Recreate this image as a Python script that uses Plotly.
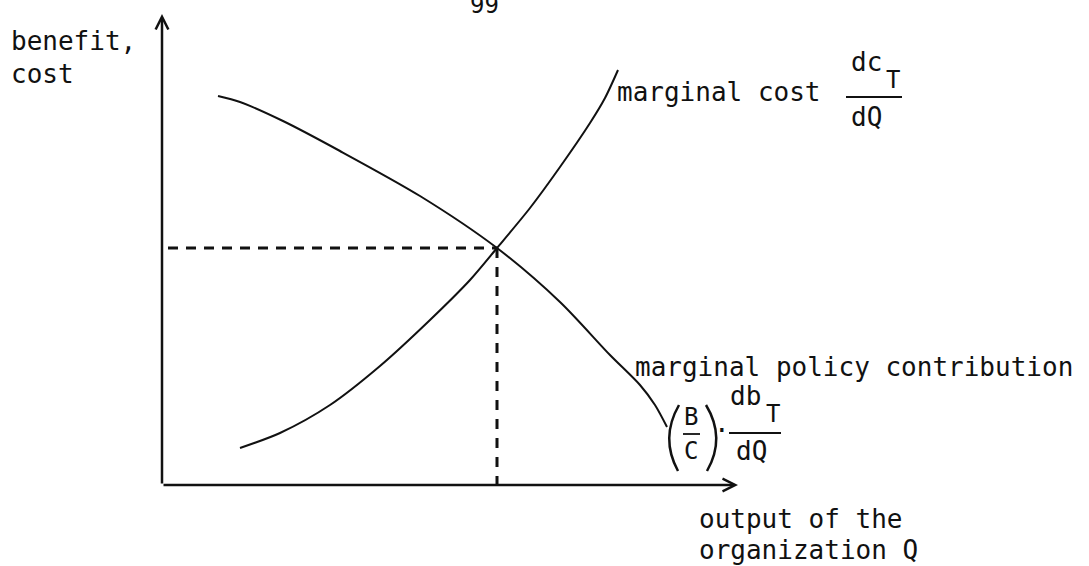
import plotly.graph_objects as go

# curves (Q = output, v = benefit/cost), arbitrary units
mc_q = [1.56, 2.36, 3.36, 4.36, 5.36, 6.16, 6.70, 7.36, 7.96, 8.56, 8.86, 9.12]
mc_v = [0.74, 1.04, 1.60, 2.38, 3.30, 4.10, 4.74, 5.54, 6.36, 7.24, 7.74, 8.30]

mb_q = [1.12, 1.56, 2.42, 3.56, 5.16, 6.70, 7.96, 8.96, 9.56, 9.86, 10.10]
mb_v = [7.78, 7.66, 7.28, 6.68, 5.78, 4.74, 3.66, 2.60, 2.00, 1.60, 1.16]

eq_q = 6.70   # optimum output
eq_v = 4.74

FONT = "DejaVu Sans Mono"
INK = "#111111"


# label placement helpers: page pixel -> data units
def X(px):
    return (px - 162) / 50


def Y(py):
    return (485 - py) / 50


fig = go.Figure()
fig.add_trace(go.Scatter(x=mc_q, y=mc_v, mode="lines", line=dict(color=INK, width=2, shape="spline", smoothing=0.8)))
fig.add_trace(go.Scatter(x=mb_q, y=mb_v, mode="lines", line=dict(color=INK, width=2, shape="spline", smoothing=0.8)))
# dashed guides to the intersection
fig.add_trace(go.Scatter(x=[X(168), eq_q], y=[eq_v, eq_v], mode="lines",
                         line=dict(color=INK, width=3, dash="10px,8px")))
fig.add_trace(go.Scatter(x=[eq_q, eq_q], y=[eq_v, 0], mode="lines",
                         line=dict(color=INK, width=3, dash="10px,9px")))

ann = []
# axes as arrows
ann.append(dict(x=0, y=Y(14), ax=0, ay=0, xref="x", yref="y", axref="x", ayref="y", text="",
                showarrow=True, arrowhead=5, arrowsize=1.0, arrowwidth=2.5, arrowcolor=INK))
ann.append(dict(x=X(738), y=0, ax=0, ay=0, xref="x", yref="y", axref="x", ayref="y", text="",
                showarrow=True, arrowhead=5, arrowsize=1.0, arrowwidth=2.5, arrowcolor=INK))


def txt(px, py, s, size=26, xa="left", ya="middle"):
    ann.append(dict(x=X(px), y=Y(py), xref="x", yref="y", text=s, showarrow=False,
                    xanchor=xa, yanchor=ya, borderpad=0,
                    font=dict(family=FONT, size=size, color=INK)))


txt(10, 41, "benefit,")
txt(10, 74, "cost")
txt(616, 92, "marginal cost")
# dc_T / dQ
txt(850, 62, "dc")
txt(885, 80, "T", size=24)
txt(850, 117, "dQ")
txt(634, 367, "marginal policy contribution")
# (B/C) . db_T / dQ
txt(691, 417, "B", size=24, xa="center")
txt(691, 451, "C", size=24, xa="center")
txt(722, 430, "·", xa="center")
txt(729, 396, "db")
txt(765, 414, "T", size=24)
txt(735, 451, "dQ")
txt(698, 519, "output of the")
txt(698, 550, "organization Q")
txt(484, 5, "99", size=24, xa="center")


def seg(x0, y0, x1, y1, w=1.8):
    return dict(type="line", xref="x", yref="y", x0=X(x0), y0=Y(y0), x1=X(x1), y1=Y(y1),
                line=dict(color=INK, width=w))


def arc(x0, y0, xc, yc, x1, y1):
    return dict(type="path", xref="x", yref="y",
                path=f"M {X(x0)},{Y(y0)} Q {X(xc)},{Y(yc)} {X(x1)},{Y(y1)}",
                line=dict(color=INK, width=2.5))


shapes = [
    seg(846, 97, 902, 97),    # dc_T / dQ bar
    seg(683, 434, 700, 434),  # B / C bar
    seg(729, 433, 781, 433),  # db_T / dQ bar
    arc(679, 405, 660, 438, 678, 471),
    arc(706, 405, 726, 438, 707, 471),
]

fig.update_layout(
    width=1089, height=566,
    margin=dict(l=0, r=0, t=0, b=0),
    paper_bgcolor="white", plot_bgcolor="white",
    showlegend=False,
    xaxis=dict(range=[X(0), X(1089)], visible=False, fixedrange=True),
    yaxis=dict(range=[Y(566), Y(0)], visible=False, fixedrange=True),
    annotations=ann, shapes=shapes,
)

fig.write_html("out.html", config={"displayModeBar": False},
               post_script="document.body.style.margin='0px';")
